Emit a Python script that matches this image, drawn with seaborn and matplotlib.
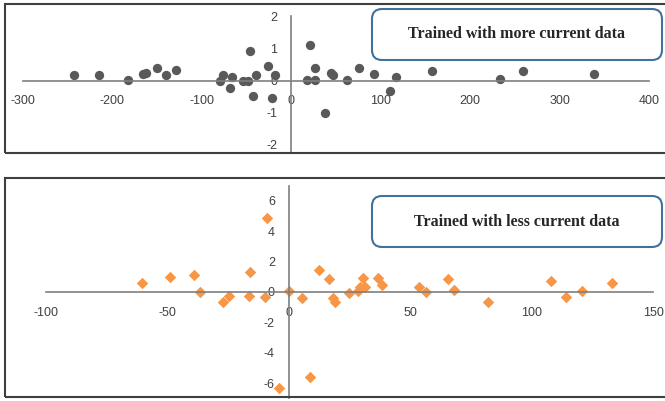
import numpy as np
import pandas as pd
import matplotlib
matplotlib.use("Agg")
import matplotlib.pyplot as plt
import seaborn as sns
from matplotlib.patches import Rectangle, FancyBboxPatch

# top panel: trained with more current data
more_x = [-243, -215, -183, -166, -162, -150, -140, -129, -80, -76, -66, -68,
          -54, -48, -46, -40, -43, -26, -18, -22, 21, 18, 27, 26, 38, 44, 47,
          62, 76, 92, 110, 117, 157, 233, 259, 338]
more_y = [0.16, 0.16, 0.03, 0.2, 0.25, 0.4, 0.16, 0.34, 0.0, 0.16, 0.1, -0.25,
          0.0, -0.03, 0.94, 0.18, -0.5, 0.47, 0.18, -0.56, 1.12, 0.03, 0.03, 0.4,
          -1.03, 0.25, 0.16, 0.03, 0.4, 0.2, -0.34, 0.12, 0.3, 0.04, 0.3, 0.2]

# bottom panel: trained with less current data
less_x = [-60.5, -49, -39, -36.6, -27, -24.7, -16, -16.5, -9.9, -9, -4, 0,
          5.3, 8.6, 12.3, 16.5, 18, 19, 24.7, 28.4, 29.2, 30.5, 31.3, 36.6,
          38.2, 53.5, 56.4, 65.4, 67.9, 82, 108, 114, 120.6, 133]
less_y = [0.6, 1.0, 1.15, 0.0, -0.65, -0.25, 1.3, -0.25, -0.3, 4.9, -6.3, 0.05,
          -0.4, -5.6, 1.45, 0.85, -0.4, -0.65, -0.05, 0.07, 0.3, 0.9, 0.3, 0.9,
          0.45, 0.35, 0.0, 0.85, 0.1, -0.65, 0.7, -0.35, 0.05, 0.6]

top_xticks = [-300, -200, -100, 0, 100, 200, 300, 400]
top_yticks = [-2, -1, 0, 1, 2]
bot_xticks = [-100, -50, 0, 50, 100, 150]
bot_yticks = [-6, -4, -2, 0, 2, 4, 6]

sns.set_style("white")
plt.rcParams["font.family"] = ["Liberation Sans", "DejaVu Sans"]
plt.rcParams["axes.unicode_minus"] = False

W, H = 6.65, 4.01
fig = plt.figure(figsize=(W, H), dpi=100)


def px_axes(left, right, top, bottom):
    return fig.add_axes([left / 665, 1 - bottom / 401,
                         (right - left) / 665, (bottom - top) / 401])


def excel_axes(ax, xticks, yticks):
    ax.set_facecolor("none")
    for s in ["top", "right"]:
        ax.spines[s].set_visible(False)
    for s in ["left", "bottom"]:
        ax.spines[s].set_position(("data", 0))
        ax.spines[s].set_color("#7f7f7f")
        ax.spines[s].set_linewidth(1.2)
    ax.set_xticks(xticks)
    ax.set_yticks(yticks)
    ax.tick_params(axis="x", length=0, pad=10.5, labelsize=9, colors="#404040")
    ax.tick_params(axis="y", length=0, pad=10, labelsize=9, colors="#404040")
    ax.set_xlabel("")
    ax.set_ylabel("")
    ax.grid(False)


ax1 = px_axes(23, 649, 16, 153)
sns.scatterplot(x=more_x, y=more_y, ax=ax1, color="#595959", s=45,
                linewidth=0, marker="o")
ax1.set_xlim(-300, 400)
ax1.set_ylim(-2.28, 2.03)
excel_axes(ax1, top_xticks, top_yticks)

ax2 = px_axes(46, 653, 185.6, 398.4)
sns.scatterplot(x=less_x, y=less_y, ax=ax2, color="#F79646", s=34,
                linewidth=0, marker="D")
ax2.set_xlim(-100, 150)
ax2.set_ylim(-7, 7)
excel_axes(ax2, bot_xticks, bot_yticks)

# panel borders (open on the right, like the cropped original)
t = fig.dpi_scale_trans
fig.patches.append(Rectangle((0.05, H - 1.53), 7.5, 1.49, transform=t,
                             fill=False, edgecolor="#3f3f3f", lw=1.5))
fig.patches.append(Rectangle((0.05, 0.04), 7.5, 2.19, transform=t,
                             fill=False, edgecolor="#3f3f3f", lw=1.5))

# labelled boxes
for top, label in [(0.09, "Trained with more current data"),
                   (1.96, "Trained with less current data")]:
    box = FancyBboxPatch((3.72, H - top - 0.51), 2.90, 0.51, transform=t,
                         boxstyle="round,pad=0,rounding_size=0.1",
                         facecolor="white", edgecolor="#41719C", lw=1.5)
    fig.patches.append(box)
    fig.text(3.72 + 1.45, H - top - 0.255, label, transform=t,
             ha="center", va="center", fontsize=11.5, fontweight="bold",
             family=["Liberation Serif", "DejaVu Serif"], color="#262626")

fig.savefig("out.png", dpi=100)
